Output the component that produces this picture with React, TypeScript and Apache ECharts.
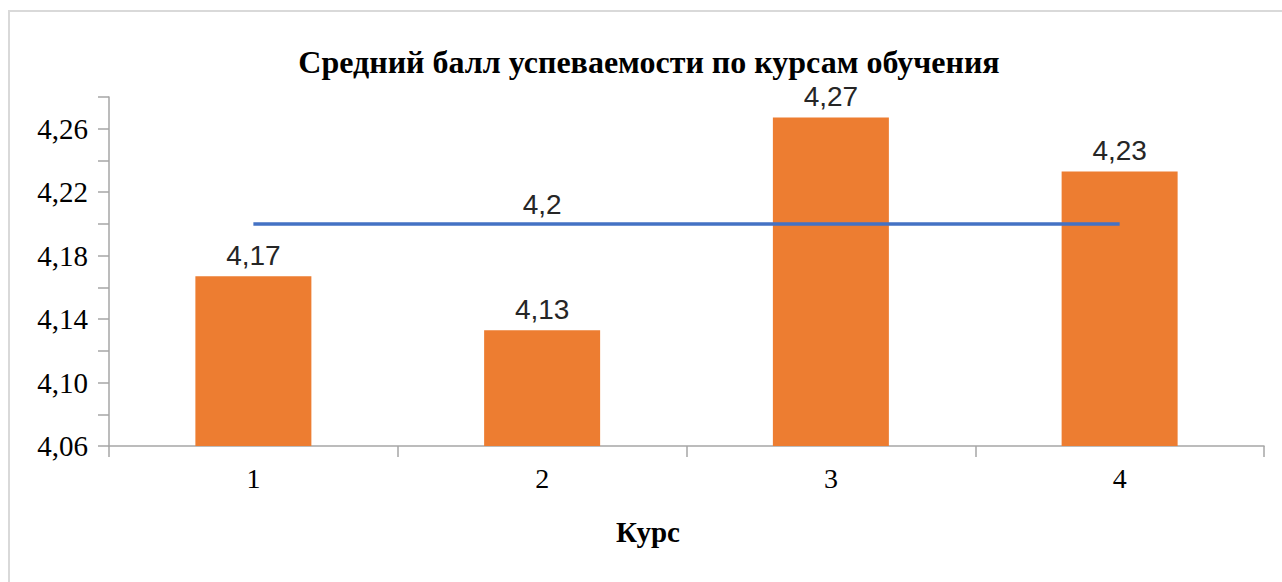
import React, { useEffect, useRef } from "react";
import * as echarts from "echarts";

const categories = ["1", "2", "3", "4"];
const barValues = [4.167, 4.133, 4.267, 4.233];
const lineValues = [4.2, 4.2, 4.2, 4.2];
const lineLabelIndex = 1;
const titleText = "Средний балл успеваемости по курсам обучения";
const xAxisTitle = "Курс";
const yMin = 4.06;
const yMax = 4.28;
const yStep = 0.02;

const SERIF = "'Liberation Serif', 'Times New Roman', serif";
const SANS = "'Liberation Sans', Arial, sans-serif";

const fmt = (v: number, d: number) => v.toFixed(d).replace(".", ",");

export default function App() {
  const ref = useRef<HTMLDivElement>(null);
  useEffect(() => {
    if (!ref.current) return;
    const chart = echarts.init(ref.current, undefined, { renderer: "svg" });
    const axisColor = "#a6a6a6";
    chart.setOption({
      animation: false,
      backgroundColor: "#ffffff",
      graphic: [
        {
          type: "rect",
          shape: { x: 9, y: 11, width: 1300, height: 620 },
          style: { fill: "none", stroke: "#d9d9d9", lineWidth: 2 },
          silent: true,
        },
        {
          type: "text",
          x: 649,
          y: 62,
          style: {
            text: titleText,
            font: "bold 32px " + SERIF,
            fill: "#000000",
            textAlign: "center",
            textVerticalAlign: "middle",
          },
        },
        {
          type: "text",
          x: 648,
          y: 532,
          style: {
            text: xAxisTitle,
            font: "bold 29px " + SERIF,
            fill: "#000000",
            textAlign: "center",
            textVerticalAlign: "middle",
          },
        },
      ],
      grid: { left: 109, right: 18, top: 97, bottom: 136, containLabel: false },
      xAxis: {
        type: "category",
        data: categories,
        boundaryGap: true,
        axisLine: { show: true, lineStyle: { color: axisColor, width: 1.5 } },
        axisTick: { show: true, length: 11, alignWithLabel: false, lineStyle: { color: axisColor, width: 1.5 } },
        axisLabel: {
          margin: 18,
          fontFamily: SERIF,
          fontSize: 28,
          color: "#000000",
        },
        splitLine: { show: false },
      },
      yAxis: {
        type: "value",
        min: yMin,
        max: yMax,
        interval: yStep,
        axisLine: { show: true, lineStyle: { color: axisColor, width: 1.5 } },
        axisTick: { show: true, length: 11, inside: false, lineStyle: { color: axisColor, width: 1.5 } },
        splitLine: { show: false },
        axisLabel: {
          margin: 21,
          fontFamily: SERIF,
          fontSize: 29,
          color: "#000000",
          showMaxLabel: true,
          showMinLabel: true,
          formatter: (v: number) =>
            Math.round((v - yMin) / yStep) % 2 === 0 ? fmt(v, 2) : "",
        },
      },
      series: [
        {
          type: "bar",
          data: barValues,
          barWidth: 116,
          itemStyle: { color: "#ED7D31" },
          label: {
            show: true,
            position: "top",
            distance: 7,
            fontFamily: SANS,
            fontSize: 28,
            color: "#262626",
            formatter: (p: any) => fmt(p.value, 2),
          },
          z: 2,
        },
        {
          type: "line",
          data: lineValues.map((v, i) =>
            i === lineLabelIndex
              ? {
                  value: v,
                  label: {
                    show: true,
                    position: "top",
                    distance: 5,
                    fontFamily: SANS,
                    fontSize: 28,
                    color: "#262626",
                    formatter: (p: any) => fmt(p.value, 1),
                  },
                }
              : v
          ),
          symbol: "circle",
          symbolSize: 0,
          showSymbol: true,
          lineStyle: { color: "#4472C4", width: 3.5 },
          itemStyle: { color: "#4472C4" },
          label: { show: false },
          z: 3,
        },
      ],
    });
    return () => chart.dispose();
  }, []);
  return (
    <div
      ref={ref}
      style={{ position: "fixed", left: 0, top: 0, width: 1282, height: 582 }}
    />
  );
}
